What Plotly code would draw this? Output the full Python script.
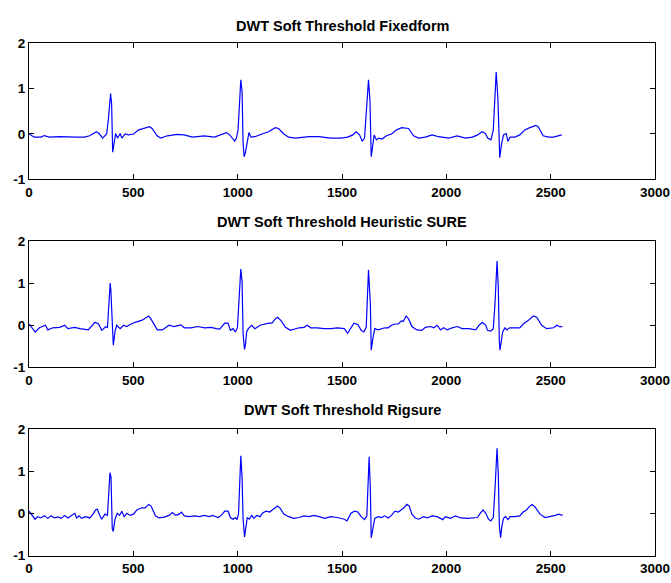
import plotly.graph_objects as go

TITLES = ["DWT Soft Threshold Fixedform", "DWT Soft Threshold Heuristic SURE", "DWT Soft Threshold Rigsure"]
X_TICKS = [0, 500, 1000, 1500, 2000, 2500, 3000]
X_TICK_TEXT = ["0", "500", "1000", "1500", "2000", "2500", "3000"]
Y_TICKS = [-1, 0, 1, 2]
Y_TICK_TEXT = ["-1", "0", "1", "2"]

# Fixedform
X1 = [1, 25, 57, 73, 98, 145, 226, 266, 291, 323, 336, 353, 372, 380, 391, 396, 401, 407, 415, 424, 437, 445,
      461, 477, 501, 526, 550, 578, 590, 614, 631, 663, 711, 743, 784, 840, 889, 921, 946, 962, 986, 994, 1002,
      1015, 1021, 1026, 1031, 1037, 1048, 1054, 1064, 1083, 1116, 1148, 1180, 1196, 1221, 1244, 1276, 1309,
      1342, 1389, 1446, 1495, 1527, 1552, 1568, 1584, 1597, 1608, 1616, 1627, 1634, 1640, 1647, 1654, 1665,
      1676, 1692, 1713, 1737, 1762, 1786, 1819, 1843, 1867, 1899, 1932, 1963, 2012, 2052, 2092, 2125, 2150,
      2171, 2187, 2198, 2214, 2225, 2239, 2247, 2252, 2256, 2264, 2274, 2287, 2295, 2306, 2328, 2352, 2376,
      2400, 2429, 2440, 2464, 2489, 2514, 2553]
Y1 = [0.0, -0.07, -0.07, -0.035, -0.07, -0.06, -0.07, -0.07, -0.04, 0.05, 0.01, -0.09, 0.0, 0.3, 0.89, 0.66,
      -0.4, -0.2, 0.01, -0.09, 0.01, -0.09, 0.0, -0.02, 0.0, 0.09, 0.12, 0.16, 0.12, -0.04, -0.09, -0.04, -0.01,
      -0.02, -0.07, -0.04, -0.07, -0.02, 0.03, -0.02, -0.16, -0.09, 0.09, 1.19, 0.94, -0.2, -0.5, -0.41, -0.09,
      0.03, -0.07, -0.06, 0.0, 0.05, 0.14, 0.12, 0.0, -0.07, -0.09, -0.07, -0.06, -0.06, -0.09, -0.09, -0.07,
      -0.02, 0.05, -0.02, -0.16, -0.09, 0.44, 1.19, 0.73, -0.5, -0.27, -0.02, -0.13, -0.09, -0.11, -0.04, 0.0,
      0.09, 0.14, 0.12, -0.04, -0.09, -0.07, -0.02, -0.06, -0.09, -0.04, -0.09, -0.07, -0.02, 0.05, 0.01, -0.09,
      -0.13, 0.09, 1.36, 0.8, -0.2, -0.52, -0.24, -0.02, 0.01, -0.16, -0.07, -0.07, -0.02, 0.09, 0.14, 0.19,
      0.16, -0.04, -0.07, -0.07, -0.02]

# Heuristic SURE
X2 = [1, 30, 50, 66, 79, 90, 114, 147, 171, 186, 219, 244, 284, 316, 333, 349, 368, 376, 389, 392, 401, 404,
      412, 420, 437, 453, 469, 485, 509, 542, 574, 582, 615, 639, 671, 695, 728, 744, 776, 809, 841, 873, 897,
      914, 938, 954, 965, 978, 989, 999, 1008, 1015, 1021, 1026, 1033, 1038, 1043, 1051, 1067, 1083, 1107,
      1124, 1148, 1164, 1180, 1191, 1208, 1229, 1253, 1294, 1318, 1334, 1350, 1381, 1414, 1446, 1478, 1511,
      1527, 1557, 1576, 1592, 1605, 1616, 1622, 1627, 1636, 1640, 1649, 1657, 1673, 1705, 1721, 1737, 1754,
      1770, 1786, 1794, 1807, 1819, 1835, 1859, 1883, 1899, 1924, 1940, 1956, 1972, 1987, 2004, 2028, 2052,
      2076, 2108, 2141, 2157, 2173, 2189, 2197, 2213, 2225, 2233, 2243, 2249, 2254, 2257, 2264, 2270, 2281,
      2290, 2303, 2327, 2352, 2368, 2392, 2417, 2433, 2457, 2481, 2514, 2530, 2545, 2557]
Y2 = [0.03, -0.16, -0.06, -0.03, 0.0, -0.11, -0.06, -0.05, 0.0, -0.08, -0.05, -0.08, -0.11, 0.07, 0.03, -0.12,
      -0.03, -0.06, 1.0, 0.85, -0.43, -0.47, -0.16, 0.0, -0.08, 0.0, -0.03, 0.02, 0.07, 0.12, 0.22, 0.17, -0.11,
      -0.11, 0.0, -0.03, 0.01, -0.06, -0.06, -0.03, -0.06, -0.05, -0.08, -0.09, 0.05, 0.05, -0.12, -0.08, -0.16,
      -0.05, 0.73, 1.33, 1.04, -0.2, -0.57, -0.43, -0.16, -0.08, 0.0, -0.08, 0.0, 0.02, 0.05, 0.05, 0.15, 0.19,
      0.11, -0.05, -0.12, -0.06, -0.05, 0.0, -0.06, -0.06, -0.08, -0.08, -0.06, -0.08, -0.19, 0.05, 0.02, -0.12,
      -0.16, -0.05, 0.6, 1.31, 0.5, -0.59, -0.28, -0.08, -0.11, -0.06, -0.06, 0.0, 0.03, 0.03, 0.11, 0.09, 0.22,
      0.15, -0.03, -0.11, -0.12, -0.05, -0.03, -0.06, 0.0, -0.11, -0.06, -0.11, -0.06, -0.03, -0.08, -0.08,
      -0.11, 0.0, 0.07, 0.0, -0.12, -0.14, -0.08, 0.5, 1.52, 0.9, -0.36, -0.59, -0.36, -0.16, -0.06, -0.11,
      -0.06, -0.06, -0.06, 0.03, 0.11, 0.22, 0.19, 0.0, -0.08, -0.06, 0.0, -0.04, -0.03]

# Rigsure
X3 = [1, 29, 41, 57, 74, 90, 106, 122, 139, 155, 171, 187, 203, 220, 228, 240, 252, 272, 291, 307, 319, 327,
      337, 348, 364, 376, 388, 393, 399, 404, 412, 423, 434, 445, 456, 469, 485, 501, 517, 541, 557, 574, 585,
      606, 622, 647, 671, 687, 703, 720, 731, 744, 768, 793, 817, 840, 864, 880, 906, 922, 938, 954, 965, 978,
      989, 997, 1004, 1010, 1015, 1021, 1026, 1033, 1040, 1046, 1056, 1067, 1078, 1091, 1107, 1121, 1137,
      1153, 1169, 1180, 1191, 1205, 1221, 1245, 1269, 1294, 1318, 1342, 1365, 1390, 1417, 1446, 1478, 1511,
      1524, 1543, 1560, 1576, 1592, 1608, 1619, 1630, 1636, 1640, 1649, 1657, 1673, 1689, 1705, 1721, 1737,
      1754, 1770, 1786, 1797, 1811, 1822, 1835, 1851, 1867, 1891, 1908, 1932, 1956, 1972, 1983, 1995, 2020,
      2044, 2069, 2101, 2125, 2149, 2165, 2176, 2189, 2202, 2213, 2225, 2233, 2243, 2249, 2254, 2260, 2266,
      2274, 2284, 2295, 2306, 2327, 2352, 2368, 2384, 2400, 2411, 2425, 2449, 2473, 2497, 2522, 2538, 2557]
Y3 = [0.05, -0.14, -0.08, -0.11, -0.06, -0.12, -0.06, -0.11, -0.085, -0.12, -0.05, -0.11, -0.05, 0.0, -0.11,
      -0.06, -0.12, -0.08, -0.11, -0.02, 0.08, 0.1, -0.02, -0.14, -0.02, -0.05, 0.96, 0.86, -0.37, -0.43, -0.14,
      0.0, -0.05, 0.05, -0.08, 0.0, -0.05, -0.02, 0.08, 0.13, 0.13, 0.21, 0.17, -0.06, -0.11, -0.09, -0.05, 0.02,
      -0.05, -0.02, 0.03, -0.06, -0.08, -0.06, -0.08, -0.05, -0.08, -0.05, -0.1, -0.05, 0.05, 0.05, -0.1, -0.14,
      -0.1, -0.15, -0.02, 0.94, 1.36, 0.86, -0.14, -0.56, -0.29, -0.1, -0.14, -0.05, -0.12, -0.05, -0.08, 0.015,
      0.05, 0.03, 0.09, 0.13, 0.17, 0.11, -0.02, -0.08, -0.12, -0.1, -0.06, -0.08, -0.05, -0.08, -0.12, -0.08,
      -0.1, -0.14, -0.18, 0.0, 0.05, 0.03, -0.08, -0.15, -0.06, 1.34, 0.55, -0.58, -0.29, -0.12, -0.08, -0.1,
      -0.06, -0.11, -0.05, 0.05, 0.03, 0.09, 0.13, 0.21, 0.17, -0.02, -0.11, -0.14, -0.08, -0.11, -0.06, -0.08,
      -0.12, -0.15, -0.08, -0.12, -0.06, -0.11, -0.12, -0.11, -0.1, 0.015, 0.08, 0.0, -0.14, -0.18, -0.1, 0.55,
      1.54, 0.94, -0.29, -0.58, -0.31, -0.12, -0.08, -0.15, -0.08, -0.08, -0.06, 0.03, 0.08, 0.17, 0.21, 0.15,
      -0.02, -0.1, -0.08, -0.05, -0.02, -0.05]

SERIES = [(X1, Y1), (X2, Y2), (X3, Y3)]

W, H = 671, 583
# pixel boxes (top, bottom) of each axes
BOXES = [(37, 177), (240, 370), (433, 563)]
TITLE_Y = [19, 221, 414]

FONT = "Liberation Sans, Arial, sans-serif"

fig = go.Figure()
layout = dict(
    width=W, height=H, margin=dict(l=29, r=16, t=0, b=0),
    paper_bgcolor="white", plot_bgcolor="white", showlegend=False,
    font=dict(family=FONT, size=14, color="black"),
)
annotations = []
for i, ((xs, ys), (top, bot)) in enumerate(zip(SERIES, BOXES)):
    n = "" if i == 0 else str(i + 1)
    fig.add_trace(go.Scatter(x=xs, y=ys, mode="lines", line=dict(color="#0000ff", width=1.2),
                             xaxis="x" + n, yaxis="y" + n, hoverinfo="skip"))
    axcommon = dict(showline=True, linecolor="black", linewidth=1, mirror="ticks", ticks="inside",
                    ticklen=5, tickcolor="black", showgrid=False, zeroline=False,
                    ticklabeloverflow="allow",
                    tickfont=dict(family=FONT, size=13.5, color="black", weight="bold"))
    layout["xaxis" + n] = dict(axcommon, domain=[0, 1], range=[0, 3000], tickvals=X_TICKS,
                               ticktext=X_TICK_TEXT, anchor="y" + n)
    layout["yaxis" + n] = dict(axcommon, domain=[(H - bot) / H, (H - top) / H], range=[-1, 2],
                               tickvals=Y_TICKS, ticktext=Y_TICK_TEXT, anchor="x" + n)
    annotations.append(dict(text="<b>" + TITLES[i] + "</b>", x=0.5, xref="paper", y=(H - TITLE_Y[i]) / H,
                            yref="paper", yanchor="middle", xanchor="center", showarrow=False,
                            font=dict(family=FONT, size=14.5, color="black")))
layout["annotations"] = annotations
fig.update_layout(**layout)
fig.write_html("out.html")
